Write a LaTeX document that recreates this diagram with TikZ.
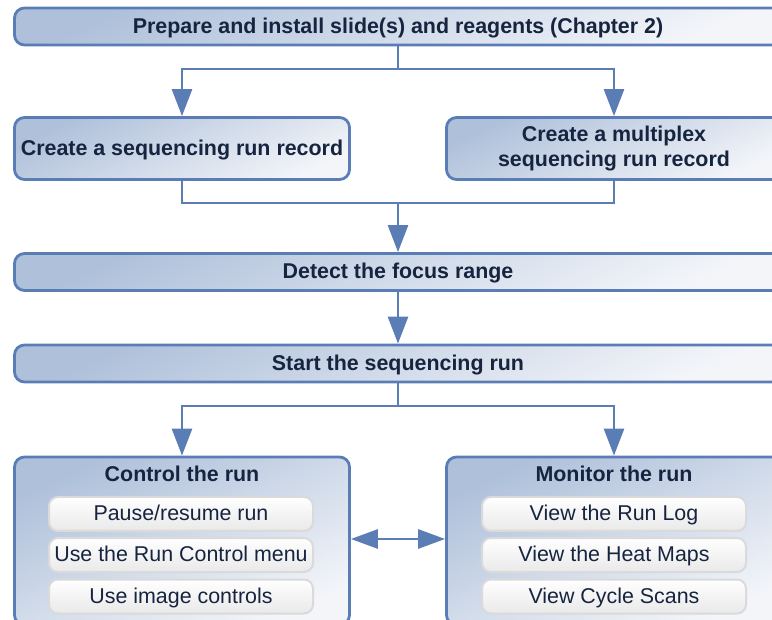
\documentclass[tikz,border=0pt]{standalone}
\usepackage{fontspec}
\setmainfont{Liberation Sans}
\usetikzlibrary{arrows.meta}
\definecolor{edge}{HTML}{5A7DB6}
\definecolor{fillA}{HTML}{AEC0DA}
\definecolor{fillB}{HTML}{F3F5F9}
\definecolor{ink}{HTML}{17243F}
\definecolor{subedge}{HTML}{DADADA}
\definecolor{subfill}{HTML}{E9E9E9}
\tikzset{
  bluebox/.style={draw=edge, line width=2.8pt, rounded corners=10pt,
    top color=fillA, bottom color=fillB, shading angle=25,
    minimum height=#1, inner sep=0pt, text=ink},
  boldtxt/.style={font=\fontsize{21.4}{25.5}\selectfont\bfseries, text=ink, align=center},
  oneline/.style={text height=18pt, text depth=4.7pt},
  subbox/.style={draw=subedge, line width=2pt, rounded corners=9pt,
    top color=white, bottom color=subfill, minimum width=264pt, minimum height=34pt,
    inner sep=0pt, font=\fontsize{21.4}{25}\selectfont, text=ink,
    text height=18.2pt, text depth=4.7pt},
  conn/.style={draw=edge, line width=2.8pt},
  arr/.style={conn, -{Triangle[width=20pt,length=27pt]}},
  darr/.style={conn, {Triangle[width=19pt,length=27pt]}-{Triangle[width=19pt,length=27pt]}},
}
\begin{document}
\begin{tikzpicture}[x=1pt,y=-1pt]
\useasboundingbox (0,0) rectangle (772,620);
\clip (0,0) rectangle (772,620);
% boxes
\node[bluebox=37pt, minimum width=767pt, boldtxt, oneline] (prep) at (398,26.5)
  {Prepare and install slide(s) and reagents (Chapter 2)};
\node[bluebox=62pt, minimum width=335pt, boldtxt, oneline] (c1) at (182,148.5)
  {Create a sequencing run record};
\node[bluebox=62pt, minimum width=335pt, boldtxt] (c2) at (614,148.5)
  {Create a multiplex\\sequencing run record};
\node[bluebox=37pt, minimum width=767pt, boldtxt, oneline] (detect) at (398,272)
  {Detect the focus range};
\node[bluebox=37pt, minimum width=767pt, boldtxt, oneline] (start) at (398,363.5)
  {Start the sequencing run};
\node[bluebox=168pt, minimum width=335pt] (ctrl) at (182,541) {};
\node[bluebox=168pt, minimum width=335pt] (mon) at (614,541) {};
\node[boldtxt, oneline] (ctrlT) at (182,475) {Control the run};
\node[boldtxt, oneline] (monT) at (614,475) {Monitor the run};
\node[subbox] (s1) at (181,514) {Pause/resume run};
\node[subbox] (s2) at (181,555) {Use the Run Control menu};
\node[subbox] (s3) at (181,596.5) {Use image controls};
\node[subbox] (m1) at (614,514) {View the Run Log};
\node[subbox] (m2) at (614,555) {View the Heat Maps};
\node[subbox] (m3) at (614,596.5) {View Cycle Scans};
% connectors
\coordinate (j1) at (398,69);
\coordinate (j2) at (398,203);
\coordinate (j3) at (398,406);
\coordinate (mid) at (398,539);
\draw[conn] (prep.south) -- (j1);
\draw[arr] (j1) -| (c1.north);
\draw[arr] (j1) -| (c2.north);
\draw[conn] (c1.south) |- (j2);
\draw[conn] (c2.south) |- (j2);
\draw[arr] (j2) -- (detect.north);
\draw[arr] (detect.south) -- (start.north);
\draw[conn] (start.south) -- (j3);
\draw[arr] (j3) -| (ctrl.north);
\draw[arr] (j3) -| (mon.north);
\draw[darr] (ctrl.east |- mid) -- (mon.west |- mid);
\end{tikzpicture}
\end{document}
